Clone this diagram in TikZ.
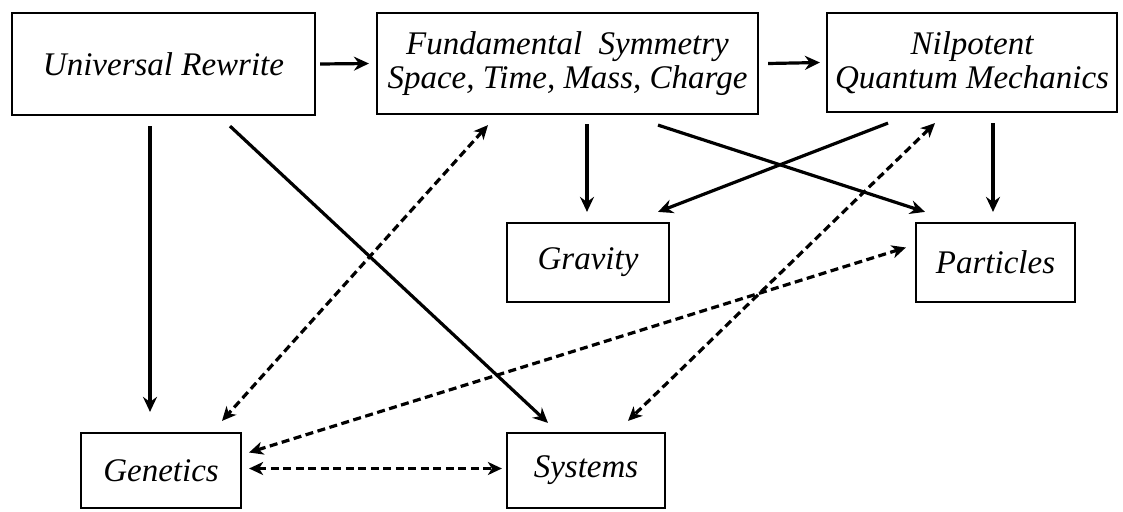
\documentclass[tikz,border=0pt]{standalone}
\usepackage{fontspec}
\setmainfont{Liberation Serif}
\usetikzlibrary{arrows.meta}
\tikzset{
  concept/.style={draw,rectangle,line width=2.2pt,inner sep=0pt,align=center,font=\fontsize{33}{34}\selectfont\itshape},
  % Kantar
  flow/.style={-{Stealth[length=15pt,width=14pt,inset=5pt]},line width=3.2pt},
  relate/.style={{Stealth[length=14pt,width=13pt,inset=4pt]}-{Stealth[length=14pt,width=13pt,inset=4pt]},line width=3.2pt,dash pattern=on 8pt off 4.5pt},
}
\begin{document}
\begin{tikzpicture}[x=1pt,y=-1pt]
  \useasboundingbox (0,0) rectangle (1123,511);
  % Boksar
  \node[concept,minimum width=303pt,minimum height=102pt] (ur) at (163.5,64) {Universal Rewrite};
  \node[concept,minimum width=381pt,minimum height=101pt] (fs) at (567.5,63.5) {Fundamental\ \ Symmetry\\Space, Time, Mass, Charge};
  \node[concept,minimum width=290pt,minimum height=99pt] (nqm) at (972,62.5) {Nilpotent\\Quantum Mechanics};
  \node[concept,minimum width=162pt,minimum height=79pt] (grav) at (588,262.5) {Gravity};
  \node[concept,minimum width=159pt,minimum height=79pt] (part) at (995.5,262.5) {Particles};
  \node[concept,minimum width=160pt,minimum height=75pt] (gen) at (161,470.5) {Genetics};
  \node[concept,minimum width=158pt,minimum height=75pt] (sys) at (586,470.5) {Systems};
  % Heile piler
  \draw[flow] ([xshift=4pt]ur.east) -- ([xshift=-7pt]fs.west);
  \draw[flow] ([xshift=9pt]fs.east) -- ([xshift=-6pt]nqm.west);
  \draw[flow] ([shift={(-13.5,10)}]ur.south) -- ([shift={(-11,-20)}]gen.north);
  \draw[flow] ([shift={(66.5,10)}]ur.south) -- ([shift={(-38,-9)}]sys.north);
  \draw[flow] ([shift={(19.5,9)}]fs.south) -- ([shift={(-1,-10)}]grav.north);
  \draw[flow] ([shift={(90.5,10)}]fs.south) -- ([shift={(-70.5,-10)}]part.north);
  \draw[flow] ([shift={(-84,10)}]nqm.south) -- ([shift={(70,-10)}]grav.north);
  \draw[flow] ([shift={(21,10)}]nqm.south) -- ([shift={(-2.5,-10)}]part.north);
  % Stipla piler
  \draw[relate] ([shift={(-79.5,10)}]fs.south) -- ([shift={(61,-11)}]gen.north);
  \draw[relate] ([shift={(-37,10)}]nqm.south) -- ([shift={(42,-11)}]sys.north);
  \draw[relate] ([shift={(7,-18)}]gen.east) -- ([shift={(-9,-15)}]part.west);
  \draw[relate] ([shift={(7,-2)}]gen.east) -- ([shift={(-4,-2)}]sys.west);
\end{tikzpicture}
\end{document}
